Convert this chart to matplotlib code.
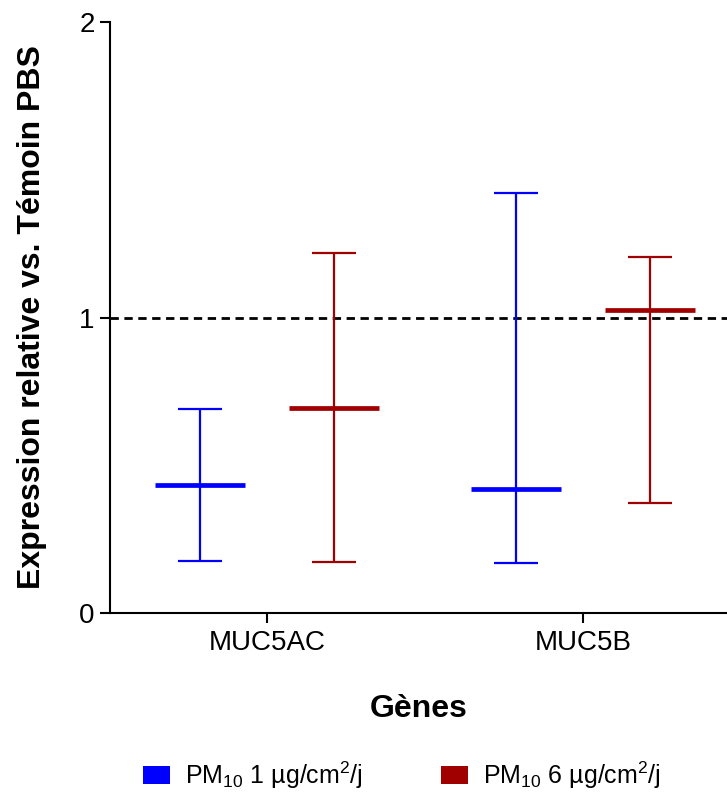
import matplotlib
matplotlib.use("Agg")
import matplotlib.pyplot as plt
from matplotlib.patches import Patch
import numpy as np

plt.rcParams['font.family'] = ['Liberation Sans', 'DejaVu Sans']
plt.rcParams['mathtext.default'] = 'regular'

genes = ['MUC5AC', 'MUC5B']
series_labels = [r'PM$_{10}$ 1 µg/cm$^{2}$/j', r'PM$_{10}$ 6 µg/cm$^{2}$/j']
colors = ['#0000FF', '#A00000']

# median, low, high per gene
pm1_median = [0.432, 0.420]
pm1_low = [0.176, 0.169]
pm1_high = [0.690, 1.420]

pm6_median = [0.695, 1.027]
pm6_low = [0.172, 0.372]
pm6_high = [1.218, 1.204]

medians = [pm1_median, pm6_median]
lows = [pm1_low, pm6_low]
highs = [pm1_high, pm6_high]

fig = plt.figure(figsize=(7.27, 7.95), dpi=100)
ax = fig.add_axes([110/727, 1 - 613/795, 617/727, (613-22)/795])

x = np.arange(len(genes))
offsets = [-0.213, 0.213]
med_hw = 0.142
cap_hw = 0.07

for i in range(2):
    xs = x + offsets[i]
    ax.vlines(xs, lows[i], highs[i], color=colors[i], lw=1.6, zorder=3)
    ax.hlines(highs[i], xs - cap_hw, xs + cap_hw, color=colors[i], lw=1.6, zorder=3)
    ax.hlines(lows[i], xs - cap_hw, xs + cap_hw, color=colors[i], lw=1.6, zorder=3)
    ax.hlines(medians[i], xs - med_hw, xs + med_hw, color=colors[i], lw=3.4, zorder=4)

ax.axhline(1, color='black', lw=2.0, ls=(0, (3, 2)), zorder=2)

ax.set_xlim(-0.497, 1.456)
ax.set_ylim(0, 2)
ax.set_yticks([0, 1, 2])
ax.set_yticklabels(['0', '1', '2'])
ax.set_xticks(x)
ax.set_xticklabels(genes)

for s in ['top', 'right']:
    ax.spines[s].set_visible(False)
for s in ['left', 'bottom']:
    ax.spines[s].set_linewidth(1.5)

ax.tick_params(axis='both', labelsize=20, width=1.5, length=7)
ax.tick_params(axis='x', pad=5)
ax.tick_params(axis='y', pad=4)
ax.set_ylabel('Expression relative vs. Témoin PBS', fontsize=23, fontweight='bold')
ax.yaxis.set_label_coords((47 - 110) / 617, 0.5)
ax.set_xlabel('Gènes', fontsize=23, fontweight='bold')
ax.xaxis.set_label_coords(0.5, (613 - 694) / 591)

handles = [Patch(facecolor=colors[i], edgecolor='none', label=series_labels[i]) for i in range(2)]
fig.legend(handles=handles, loc='center', bbox_to_anchor=(402/727, 1 - 775/795), ncol=2,
           frameon=False, fontsize=18, handlelength=1.1, handleheight=0.75,
           handletextpad=0.6, columnspacing=3.1)

fig.savefig('out.png', dpi=100)
